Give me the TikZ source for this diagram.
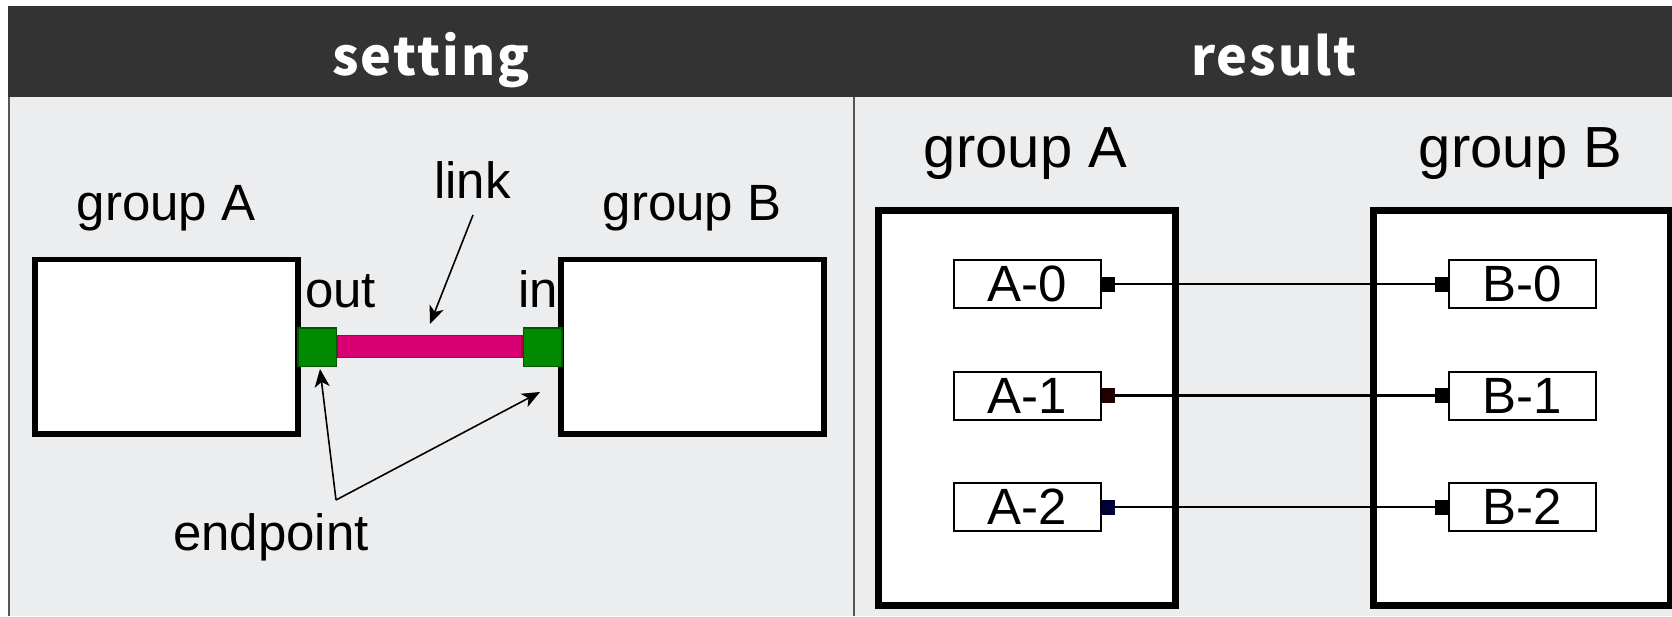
\documentclass[tikz,border=0pt]{standalone}
\usepackage{fontspec}
\setmainfont{Liberation Sans}
\newfontfamily\headfont[LetterSpace=4]{Noto Sans CJK SC}
\usepackage{xcolor}
\usepackage{tikz}
\usepackage{tkz-euclide}
\usetikzlibrary{arrows.meta}
\definecolor{headbg}{HTML}{333333}
\definecolor{cellbg}{HTML}{ECEDEF}
\definecolor{rulegray}{HTML}{555555}
\definecolor{epfill}{HTML}{008A00}
\definecolor{epline}{HTML}{005700}
\definecolor{linkfill}{HTML}{D80073}
\definecolor{linkline}{HTML}{A50040}
\definecolor{portred}{HTML}{1E0000}
\definecolor{portblue}{HTML}{000038}
\tikzset{head label/.style={font=\headfont\bfseries\fontsize{52}{60}\selectfont,text=white,anchor=base,inner sep=0pt},
	big label/.style={font=\fontsize{51}{60}\selectfont,anchor=base,inner sep=0pt},
	title label/.style={font=\fontsize{58}{66}\selectfont,anchor=base,inner sep=0pt},
	group box/.style={draw,fill=white,inner sep=0pt,outer sep=0pt},
	member box/.style={draw,fill=white,line width=2pt,minimum width=147pt,minimum height=48pt,inner sep=0pt,font=\fontsize{51}{58}\selectfont},
	port/.style={fill=black,minimum width=13pt,minimum height=15pt,inner sep=0pt,outer sep=0pt},
	end point/.style={draw=epline,fill=epfill,line width=1.5pt,minimum size=38.5pt,inner sep=0pt},
	pointer/.style={line width=1.6pt,-{Stealth[length=18pt,width=15pt,inset=5pt]}},
	wire/.style={line width=2.2pt}}

\begin{document}
\begin{tikzpicture}[x=1pt,y=-1pt]
	\useasboundingbox (0,0) rectangle (1672,616);
	% table frame
	\fill[headbg] (8,6) rectangle (1672,97);
	\fill[cellbg] (8,97) rectangle (1672,616);
	\draw[rulegray,line width=2pt] (9,97) -- (9,616);
	\draw[rulegray,line width=2pt] (854,97) -- (854,616);
	\node[head label] (hSet) at (431,75) {setting};
	\node[head label] (hRes) at (1274,75) {result};

	% setting: two groups joined by one link
	\node[group box,line width=5.5pt,minimum width=263pt,minimum height=174.5pt] (gA) at (166.5,346.75) {};
	\node[group box,line width=5.5pt,minimum width=263pt,minimum height=174.5pt] (gB) at (692.5,346.75) {};
	\node[big label] (tA) at (166,220) {group A};
	\node[big label] (tB) at (692,220) {group B};
	\node[draw=linkline,fill=linkfill,line width=1.5pt,minimum width=185pt,minimum height=22pt,inner sep=0pt] (lk) at (429.5,346.5) {};
	\node[end point] (eA) at (317,347) {};
	\node[end point] (eB) at (542.5,347) {};
	\node[big label,anchor=base west] (tOut) at (305,307) {out};
	\node[big label,anchor=base east] (tIn) at (558,307) {in};
	\node[big label] (tLink) at (472.5,198) {link};
	\node[big label] (tEnd) at (271,550) {endpoint};

	\tkzDefPoint(473,215){lS}
	\tkzDefPoint(430,324){lT}
	\tkzDefPoint(336,500){eS}
	\tkzDefPoint(320,369){eT}
	\tkzDefPoint(540,392){eU}
	\draw[pointer] (lS) -- (lT);
	\draw[pointer] (eS) -- (eT);
	\draw[pointer] (eS) -- (eU);

	% result: members wired one to one
	\node[title label] (rA) at (1025.5,167) {group A};
	\node[title label] (rB) at (1520.5,167) {group B};
	\node[group box,line width=7pt,minimum width=297pt,minimum height=395pt] (bA) at (1027,408) {};
	\node[group box,line width=7pt,minimum width=297pt,minimum height=395pt] (bB) at (1522,408) {};
	\foreach \i/\y/\c in {0/284/black,1/395.5/portred,2/507/portblue}{
		\node[member box] (A\i) at (1027.5,\y) {A-\i};
		\node[member box] (B\i) at (1522.5,\y) {B-\i};
		\node[port,fill=\c,anchor=west] (pA\i) at (A\i.east) {};
		\node[port,anchor=east] (pB\i) at (B\i.west) {};
		\draw[wire] (pA\i) -- (pB\i);
	}
\end{tikzpicture}
\end{document}
